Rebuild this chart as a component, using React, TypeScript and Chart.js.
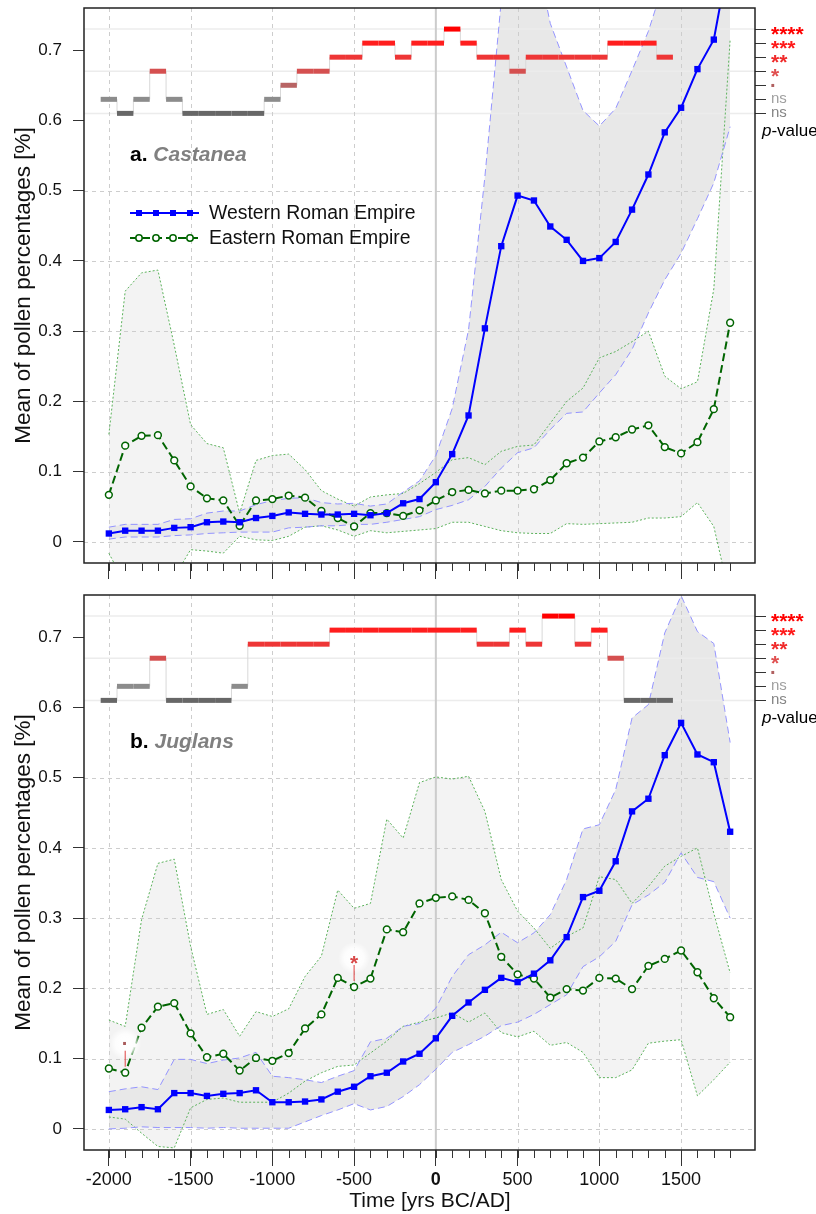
import React, { useEffect, useRef } from 'react';
import { Chart, registerables } from 'chart.js';

Chart.register(...registerables);

// ---------------- data ----------------
const YEARS = [-2000, -1900, -1800, -1700, -1600, -1500, -1400, -1300, -1200, -1100,
  -1000, -900, -800, -700, -600, -500, -400, -300, -200, -100,
  0, 100, 200, 300, 400, 500, 600, 700, 800, 900,
  1000, 1100, 1200, 1300, 1400, 1500, 1600, 1700, 1800];

const X_LABEL_TICKS = [-2000, -1500, -1000, -500, 0, 500, 1000, 1500];
const X_GRID = [-2000, -1500, -1000, -500, 500, 1000, 1500];
const Y_TICKS = [0, 0.1, 0.2, 0.3, 0.4, 0.5, 0.6, 0.7];
const Y_GRID = [0, 0.1, 0.2, 0.3, 0.4, 0.5];

// p-value axis (significance categories)
const P_LEVELS = [0.61, 0.63, 0.65, 0.67, 0.69, 0.71, 0.73];
const P_LABELS = ['ns', 'ns', '·', '*', '**', '***', '****'];
const P_GUIDES = [0.61, 0.67, 0.73];
const P_YEARS = [-2000, -1900, -1800, -1700, -1600, -1500, -1400, -1300, -1200, -1100,
  -1000, -900, -800, -700, -600, -500, -400, -300, -200, -100,
  0, 100, 200, 300, 400, 500, 600, 700, 800, 900,
  1000, 1100, 1200, 1300, 1400];

// a. Castanea
const A_WEST = [0.012, 0.016, 0.016, 0.016, 0.020, 0.021, 0.028, 0.029, 0.028, 0.034,
  0.037, 0.042, 0.040, 0.039, 0.039, 0.040, 0.038, 0.041, 0.055, 0.061,
  0.085, 0.125, 0.180, 0.304, 0.421, 0.493, 0.486, 0.449, 0.430, 0.400,
  0.404, 0.427, 0.473, 0.523, 0.583, 0.618, 0.673, 0.715, 0.840];
const A_WEST_HI = [0.021, 0.025, 0.025, 0.025, 0.032, 0.033, 0.041, 0.044, 0.044, 0.053,
  0.059, 0.062, 0.063, 0.056, 0.054, 0.055, 0.051, 0.054, 0.071, 0.087,
  0.123, 0.190, 0.302, 0.520, 0.770, 0.900, 0.850, 0.738, 0.676, 0.614,
  0.592, 0.617, 0.671, 0.727, 0.800, 0.900, 1.000, 1.100, 1.200];
const A_WEST_LO = [0.004, 0.007, 0.007, 0.007, 0.009, 0.010, 0.012, 0.013, 0.014, 0.014,
  0.014, 0.020, 0.021, 0.023, 0.023, 0.025, 0.025, 0.028, 0.032, 0.036,
  0.046, 0.052, 0.060, 0.079, 0.105, 0.127, 0.134, 0.160, 0.183, 0.185,
  0.212, 0.238, 0.274, 0.326, 0.373, 0.411, 0.460, 0.511, 0.591];
const A_EAST = [0.067, 0.137, 0.151, 0.152, 0.116, 0.079, 0.062, 0.059, 0.023, 0.059,
  0.061, 0.066, 0.063, 0.044, 0.034, 0.022, 0.041, 0.041, 0.037, 0.045,
  0.059, 0.071, 0.074, 0.069, 0.073, 0.073, 0.075, 0.088, 0.112, 0.120,
  0.143, 0.149, 0.160, 0.166, 0.135, 0.126, 0.142, 0.189, 0.312];
const A_EAST_HI = [0.153, 0.357, 0.383, 0.387, 0.280, 0.167, 0.140, 0.134, 0.041, 0.116,
  0.123, 0.125, 0.103, 0.073, 0.061, 0.051, 0.064, 0.067, 0.069, 0.083,
  0.099, 0.117, 0.120, 0.110, 0.129, 0.136, 0.138, 0.169, 0.200, 0.219,
  0.262, 0.271, 0.285, 0.300, 0.236, 0.218, 0.228, 0.360, 0.715];
const A_EAST_LO = [-0.016, -0.060, -0.080, -0.080, -0.050, -0.011, -0.013, -0.016, 0.008, 0.003,
  0.002, 0.008, 0.021, 0.023, 0.017, 0.008, 0.016, 0.013, 0.015, 0.017,
  0.019, 0.028, 0.028, 0.022, 0.016, 0.013, 0.012, 0.012, 0.026, 0.025,
  0.026, 0.027, 0.028, 0.034, 0.034, 0.036, 0.056, 0.022, -0.080];
// significance rank per century bin (index into P_LEVELS)
const A_PSIG = [1, 0, 1, 3, 1, 0, 0, 0, 0, 0,
  1, 2, 3, 3, 4, 4, 5, 5, 4, 5,
  5, 6, 5, 4, 4, 3, 4, 4, 4, 4,
  4, 5, 5, 5, 4];

// b. Juglans
const B_WEST = [0.027, 0.028, 0.031, 0.028, 0.051, 0.051, 0.047, 0.050, 0.051, 0.055,
  0.038, 0.038, 0.039, 0.042, 0.053, 0.060, 0.075, 0.080, 0.096, 0.107,
  0.129, 0.161, 0.180, 0.198, 0.215, 0.209, 0.221, 0.240, 0.273, 0.330,
  0.339, 0.381, 0.452, 0.470, 0.532, 0.578, 0.533, 0.522, 0.423];
const B_WEST_HI = [0.053, 0.057, 0.060, 0.056, 0.099, 0.099, 0.093, 0.098, 0.101, 0.109,
  0.075, 0.073, 0.070, 0.066, 0.075, 0.083, 0.124, 0.129, 0.146, 0.150,
  0.172, 0.217, 0.248, 0.262, 0.280, 0.265, 0.279, 0.305, 0.355, 0.427,
  0.433, 0.483, 0.585, 0.604, 0.706, 0.759, 0.708, 0.691, 0.550];
const B_WEST_LO = [0.000, 0.001, 0.003, 0.002, 0.002, 0.002, 0.001, 0.002, 0.001, 0.001,
  0.001, 0.001, 0.010, 0.019, 0.027, 0.036, 0.027, 0.032, 0.046, 0.063,
  0.085, 0.109, 0.120, 0.132, 0.147, 0.152, 0.163, 0.177, 0.191, 0.231,
  0.245, 0.267, 0.319, 0.333, 0.351, 0.393, 0.358, 0.352, 0.300];
const B_EAST = [0.086, 0.080, 0.144, 0.174, 0.179, 0.136, 0.102, 0.107, 0.083, 0.101,
  0.097, 0.108, 0.143, 0.163, 0.215, 0.202, 0.214, 0.284, 0.280, 0.321,
  0.329, 0.331, 0.326, 0.307, 0.245, 0.220, 0.214, 0.187, 0.199, 0.197,
  0.215, 0.214, 0.199, 0.232, 0.242, 0.254, 0.223, 0.186, 0.159];
const B_EAST_HI = [0.155, 0.146, 0.298, 0.378, 0.384, 0.260, 0.163, 0.170, 0.132, 0.167,
  0.160, 0.171, 0.217, 0.246, 0.340, 0.314, 0.321, 0.441, 0.414, 0.493,
  0.501, 0.498, 0.502, 0.452, 0.355, 0.310, 0.286, 0.257, 0.274, 0.286,
  0.359, 0.355, 0.321, 0.345, 0.374, 0.388, 0.400, 0.307, 0.222];
const B_EAST_LO = [0.017, 0.014, -0.006, -0.025, -0.027, 0.030, 0.042, 0.044, 0.038, 0.038,
  0.038, 0.051, 0.068, 0.080, 0.089, 0.091, 0.108, 0.125, 0.146, 0.152,
  0.158, 0.165, 0.152, 0.165, 0.137, 0.131, 0.139, 0.119, 0.123, 0.109,
  0.073, 0.073, 0.084, 0.122, 0.125, 0.127, 0.047, 0.070, 0.095];
const B_PSIG = [0, 1, 1, 3, 0, 0, 0, 0, 1, 4,
  4, 4, 4, 4, 5, 5, 5, 5, 5, 5,
  5, 5, 5, 4, 4, 5, 4, 6, 6, 4,
  5, 3, 0, 0, 0];
const B_MARKS = [{ year: -1900, label: '·' }, { year: -500, label: '*' }];

// ---------------- styles ----------------
const FONT = '"Liberation Sans", Arial, Helvetica, sans-serif';
const SIG_COLORS = ['#676767', '#8c8c8c', '#b86464', '#d55050', '#ee3636', '#ff1e1e', '#ff0000'];
const P_LABEL_COLORS = ['#858585', '#a0a0a0', '#b06060', '#e05050', '#f02a2a', '#ff1a1a', '#ff0000'];
const BLUE = '#0000ff';
const GREEN = '#006400';
const BLUE_BAND_LINE = '#9494ff';
const GREEN_BAND_LINE = '#5cb25c';

Chart.defaults.font.family = FONT;

type Panel = {
  letter: string; taxon: string;
  west: number[]; westHi: number[]; westLo: number[];
  east: number[]; eastHi: number[]; eastLo: number[];
  psig: number[]; legend: boolean; xLabels: boolean;
  marks: { year: number; label: string }[];
};

const PANEL_A: Panel = {
  letter: 'a.', taxon: 'Castanea', west: A_WEST, westHi: A_WEST_HI, westLo: A_WEST_LO,
  east: A_EAST, eastHi: A_EAST_HI, eastLo: A_EAST_LO, psig: A_PSIG, legend: true, xLabels: false, marks: [],
};
const PANEL_B: Panel = {
  letter: 'b.', taxon: 'Juglans', west: B_WEST, westHi: B_WEST_HI, westLo: B_WEST_LO,
  east: B_EAST, eastHi: B_EAST_HI, eastLo: B_EAST_LO, psig: B_PSIG, legend: false, xLabels: true, marks: B_MARKS,
};

const PLOT_BOTTOM = 563;

function pts(vals: number[]) {
  return YEARS.map((x, i) => ({ x, y: vals[i] }));
}

function line(ctx: CanvasRenderingContext2D, x1: number, y1: number, x2: number, y2: number) {
  ctx.beginPath(); ctx.moveTo(x1, y1); ctx.lineTo(x2, y2); ctx.stroke();
}

function noPad(s: any) {
  s.paddingTop = 0; s.paddingBottom = 0; s.paddingLeft = 0; s.paddingRight = 0;
}

function makePlugin(p: Panel, H: number) {
  return {
    id: 'rdeco',
    beforeDatasetsDraw(chart: any) {
      const { ctx, chartArea: a, scales } = chart;
      const x = scales.x, y = scales.y;
      ctx.save();
      ctx.beginPath(); ctx.rect(a.left, a.top, a.right - a.left, a.bottom - a.top); ctx.clip();
      ctx.strokeStyle = '#ececec'; ctx.lineWidth = 1.5; ctx.setLineDash([]);
      for (const v of P_GUIDES) { const py = y.getPixelForValue(v); line(ctx, a.left, py, a.right, py); }
      ctx.strokeStyle = '#cdcdcd'; ctx.lineWidth = 1; ctx.setLineDash([4, 4]);
      for (const v of Y_GRID) { const py = Math.round(y.getPixelForValue(v)) + 0.5; line(ctx, a.left, py, a.right, py); }
      for (const v of X_GRID) { const px = Math.round(x.getPixelForValue(v)) + 0.5; line(ctx, px, a.top, px, a.bottom); }
      ctx.setLineDash([]); ctx.strokeStyle = '#cccccc'; ctx.lineWidth = 2;
      const p0 = x.getPixelForValue(0); line(ctx, p0, a.top, p0, a.bottom);
      ctx.restore();
    },
    afterDatasetsDraw(chart: any) {
      const { ctx, chartArea: a, scales } = chart;
      const x = scales.x, y = scales.y;
      ctx.save();
      // significance marks on Eastern series
      for (const m of p.marks) {
        const i = YEARS.indexOf(m.year);
        const px = x.getPixelForValue(m.year);
        const py = y.getPixelForValue(p.east[i]);
        const sy = py - 29;
        const g = ctx.createRadialGradient(px, sy, 0, px, sy, 16);
        g.addColorStop(0, 'rgba(255,255,255,1)');
        g.addColorStop(0.6, 'rgba(255,255,255,0.85)');
        g.addColorStop(1, 'rgba(255,255,255,0)');
        ctx.fillStyle = g; ctx.beginPath(); ctx.arc(px, sy, 16, 0, Math.PI * 2); ctx.fill();
        ctx.strokeStyle = '#e04040'; ctx.lineWidth = 1;
        line(ctx, px, py - 6, px, py - 22);
        ctx.textAlign = 'center'; ctx.textBaseline = 'alphabetic';
        if (m.label === '*') { ctx.fillStyle = '#d84848'; ctx.font = `bold 21px ${FONT}`; ctx.fillText('*', px, sy + 12); }
        else { ctx.fillStyle = '#a85a5a'; ctx.font = `bold 20px ${FONT}`; ctx.fillText(m.label, px, sy + 6); }
      }
      // panel label
      ctx.textBaseline = 'middle'; ctx.textAlign = 'left';
      const ly = a.top + 147;
      ctx.font = `bold 21px ${FONT}`; ctx.fillStyle = '#000';
      ctx.fillText(p.letter, 130, ly);
      const w = ctx.measureText(p.letter + ' ').width;
      ctx.font = `italic bold 21px ${FONT}`; ctx.fillStyle = '#808080';
      ctx.fillText(p.taxon, 130 + w, ly);
      // legend
      if (p.legend) {
        const mx = [139, 156, 173, 190];
        const yb = a.top + 205, yg = a.top + 230;
        ctx.strokeStyle = BLUE; ctx.lineWidth = 2; ctx.setLineDash([]);
        line(ctx, 130, yb, 199, yb);
        ctx.fillStyle = BLUE;
        for (const m of mx) ctx.fillRect(m - 3, yb - 3, 6, 6);
        ctx.strokeStyle = GREEN; ctx.setLineDash([8, 4]);
        line(ctx, 130, yg, 199, yg);
        ctx.setLineDash([]); ctx.lineWidth = 1.5;
        for (const m of mx) { ctx.beginPath(); ctx.arc(m, yg, 3.2, 0, Math.PI * 2); ctx.fillStyle = '#fff'; ctx.fill(); ctx.stroke(); }
        ctx.fillStyle = '#111'; ctx.font = `19.4px ${FONT}`;
        ctx.fillText('Western Roman Empire', 209, yb + 1);
        ctx.fillText('Eastern Roman Empire', 209, yg + 1);
      }
      ctx.restore();
    },
    afterDraw(chart: any) {
      const { ctx, chartArea: a, scales } = chart;
      const x = scales.x, ps = scales.p;
      ctx.save();
      ctx.strokeStyle = '#222'; ctx.lineWidth = 1.5; ctx.setLineDash([]);
      ctx.strokeRect(a.left, a.top, a.right - a.left, a.bottom - a.top);
      ctx.lineWidth = 1; ctx.strokeStyle = '#333';
      for (const v of YEARS) { const px = Math.round(x.getPixelForValue(v)) + 0.5; line(ctx, px, a.bottom, px, a.bottom + 8); }
      // p-value axis labels
      ctx.textAlign = 'left'; ctx.textBaseline = 'alphabetic';
      P_LABELS.forEach((lab, i) => {
        const ty = ps.getPixelForValue(P_LEVELS[i]);
        ctx.fillStyle = P_LABEL_COLORS[i];
        if (i >= 3) { ctx.font = `bold 21px ${FONT}`; ctx.fillText(lab, 771, ty + 12); }
        else if (i === 2) { ctx.font = `bold 20px ${FONT}`; ctx.fillText(lab, 770, ty + 7); }
        else { ctx.font = `15px ${FONT}`; ctx.fillText(lab, 771, ty + 4); }
      });
      // p-value caption
      ctx.fillStyle = '#000'; ctx.textBaseline = 'middle'; ctx.textAlign = 'left';
      ctx.font = `italic 17px ${FONT}`;
      ctx.fillText('p', 762, a.top + 123);
      const pw = ctx.measureText('p').width;
      ctx.font = `17px ${FONT}`;
      ctx.fillText('-value', 762 + pw, a.top + 123);
      if (p.xLabels) {
        ctx.font = `21px ${FONT}`; ctx.textAlign = 'center'; ctx.fillStyle = '#111';
        ctx.fillText('Time [yrs BC/AD]', 430, H - 13);
      }
      ctx.restore();
    },
  };
}

function makeConfig(p: Panel, H: number): any {
  const barData: any[] = [];
  p.psig.forEach((r, i) => {
    const yr = P_YEARS[i];
    const lv = P_LEVELS[r];
    barData.push({ x: yr - 50, y: lv }, { x: yr + 50, y: lv }, { x: yr + 50, y: null });
  });
  const stepData = p.psig.map((r, i) => ({ x: P_YEARS[i], y: P_LEVELS[r] }));
  const rankOf = (v: number) => {
    let best = 0;
    P_LEVELS.forEach((l, i) => { if (Math.abs(l - v) < Math.abs(P_LEVELS[best] - v)) best = i; });
    return best;
  };
  const band = { pointRadius: 0, borderWidth: 1, tension: 0 };
  return {
    type: 'line',
    data: {
      datasets: [
        { label: 'p', data: barData, order: 0, borderWidth: 5, borderCapStyle: 'butt', pointRadius: 0,
          spanGaps: false, borderColor: SIG_COLORS[6],
          segment: { borderColor: (c: any) => SIG_COLORS[rankOf(c.p0.parsed.y)] } },
        { label: 'pstep', data: stepData, order: 1, stepped: 'middle', borderWidth: 1, borderColor: '#d8d8d8', pointRadius: 0 },
        { label: 'Western Roman Empire', data: pts(p.west), order: 2, borderColor: BLUE, borderWidth: 2,
          pointStyle: 'rect', pointRadius: 4.5, pointBackgroundColor: BLUE, pointBorderColor: BLUE, pointBorderWidth: 0 },
        { label: 'Eastern Roman Empire', data: pts(p.east), order: 3, borderColor: GREEN, borderWidth: 2, borderDash: [8, 4],
          pointStyle: 'circle', pointRadius: 3.4, pointBackgroundColor: '#ffffff', pointBorderColor: GREEN, pointBorderWidth: 1.5 },
        { label: 'wHi', data: pts(p.westHi), order: 4, ...band, borderColor: BLUE_BAND_LINE, borderDash: [7, 4],
          fill: '+1', backgroundColor: '#e8e8e8' },
        { label: 'wLo', data: pts(p.westLo), order: 5, ...band, borderColor: BLUE_BAND_LINE, borderDash: [7, 4] },
        { label: 'eHi', data: pts(p.eastHi), order: 6, ...band, borderColor: GREEN_BAND_LINE, borderDash: [2, 2],
          fill: '+1', backgroundColor: '#f3f3f3' },
        { label: 'eLo', data: pts(p.eastLo), order: 7, ...band, borderColor: GREEN_BAND_LINE, borderDash: [2, 2] },
      ],
    },
    options: {
      responsive: false,
      animation: false,
      devicePixelRatio: 1,
      events: [],
      layout: { padding: { top: 8, left: 0, right: 0, bottom: 0 } },
      plugins: { legend: { display: false }, tooltip: { enabled: false }, filler: { drawTime: 'beforeDatasetsDraw' } },
      scales: {
        x: {
          type: 'linear', position: 'bottom', min: -2152, max: 1952,
          afterFit: (s: any) => { s.height = H - PLOT_BOTTOM; noPad(s); },
          afterBuildTicks: (s: any) => { s.ticks = X_LABEL_TICKS.map((v) => ({ value: v })); },
          ticks: {
            autoSkip: false, maxRotation: 0, padding: 3, color: '#111',
            callback: (v: any) => (p.xLabels ? String(v) : ''),
            font: (c: any) => ({ size: 18, weight: c.tick && c.tick.value === 0 ? 'bold' : 'normal' }),
          },
          grid: { drawOnChartArea: false, drawTicks: true, tickLength: 16, tickColor: '#333', tickWidth: 1 },
          border: { display: false },
        },
        y: {
          type: 'linear', position: 'left', min: -0.03, max: 0.76,
          afterFit: (s: any) => { s.width = 84; noPad(s); },
          afterBuildTicks: (s: any) => { s.ticks = Y_TICKS.map((v) => ({ value: v })); },
          ticks: { autoSkip: false, padding: 11, color: '#111', font: { size: 17 },
            callback: (v: any) => (v === 0 ? '0' : Number(v).toFixed(1)) },
          grid: { drawOnChartArea: false, drawTicks: true, tickLength: 11, tickColor: '#333' },
          border: { display: false },
          title: { display: true, text: 'Mean of pollen percentages [%]', color: '#111',
            font: { size: 22.5 }, padding: { top: 10, bottom: 0 } },
        },
        p: {
          type: 'linear', position: 'right', min: -0.03, max: 0.76,
          afterFit: (s: any) => { s.width = 61; noPad(s); },
          afterBuildTicks: (s: any) => { s.ticks = P_LEVELS.map((v) => ({ value: v })); },
          ticks: { autoSkip: false, padding: 5, callback: () => '' },
          grid: { drawOnChartArea: false, drawTicks: true, tickLength: 11, tickColor: '#333' },
          border: { display: false },
        },
      },
    },
    plugins: [makePlugin(p, H)],
  };
}

function PanelChart({ panel, top, height }: { panel: Panel; top: number; height: number }) {
  const ref = useRef<HTMLCanvasElement>(null);
  useEffect(() => {
    const chart = new Chart(ref.current as HTMLCanvasElement, makeConfig(panel, height));
    return () => chart.destroy();
  }, [panel, height]);
  return (
    <canvas ref={ref} width={816} height={height}
      style={{ position: 'absolute', left: 0, top, width: 816, height, display: 'block' }} />
  );
}

export default function App() {
  return (
    <div style={{ position: 'absolute', left: 0, top: 0, width: 816, height: 1214, background: '#ffffff', overflow: 'hidden' }}>
      <PanelChart panel={PANEL_A} top={0} height={587} />
      <PanelChart panel={PANEL_B} top={587} height={627} />
    </div>
  );
}
